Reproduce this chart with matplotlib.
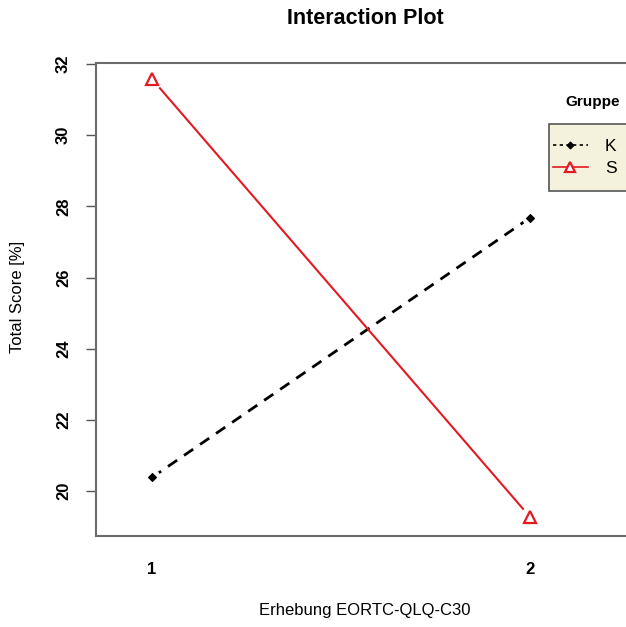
import matplotlib
matplotlib.use('Agg')
import matplotlib.pyplot as plt
from matplotlib.lines import Line2D
from matplotlib.patches import Rectangle

plt.rcParams['font.family'] = ['Liberation Sans', 'DejaVu Sans']

# data
erhebung = [1, 2]
gruppen = ['K', 'S']
score_k = [20.38, 27.68]
score_s = [31.58, 19.27]
y_ticks = [20, 22, 24, 26, 28, 30, 32]

styles = {
    'K': dict(color='black', ls=(0, (4, 3)), lw=2.0, marker='D', ms=4.5, mfc='black', mew=0.8),
    'S': dict(color='#e41a22', ls='-', lw=1.5, marker='^', ms=8, mfc='white', mew=1.6),
}

fig = plt.figure(figsize=(6.26, 6.27), dpi=100)
ax = fig.add_axes([96 / 626, 91 / 627, 538 / 626, 473 / 627])

for name, vals in zip(gruppen, [score_k, score_s]):
    st = styles[name]
    ax.plot(erhebung, vals, color=st['color'], ls=st['ls'], lw=st['lw'], zorder=2)
    # white gap round the points, like R's type = "b"
    ax.plot(erhebung, vals, ls='none', marker='o', ms=st['ms'] + 6, mfc='white', mec='white', zorder=3)
    ax.plot(erhebung, vals, ls='none', marker=st['marker'], ms=st['ms'], mfc=st['mfc'],
            mec=st['color'], mew=st['mew'], zorder=4)

ax.set_xlim(0.852, 2.275)
ax.set_ylim(18.735, 32.03)
ax.set_xticks(erhebung)
ax.set_xticklabels([str(v) for v in erhebung], fontsize=12, fontweight='bold')
ax.set_yticks(y_ticks)
ax.set_yticklabels([str(v) for v in y_ticks], fontsize=12, fontweight='bold',
                   rotation=90, va='center')
ax.tick_params(axis='x', length=0, pad=19)
ax.tick_params(axis='y', length=7, width=1, color='#555555', pad=11)
for side in ['left', 'bottom', 'top', 'right']:
    ax.spines[side].set_color('#6b6b6b')
    ax.spines[side].set_linewidth(1.5)

fig.text(365 / 626, 1 - 19 / 627, 'Interaction Plot', ha='center', va='center',
         fontsize=15.5, fontweight='bold')
fig.text(365 / 626, 1 - 611 / 627, 'Erhebung EORTC-QLQ-C30', ha='center', va='center', fontsize=12)
fig.text(18 / 626, 1 - 297 / 627, 'Total Score [%]', ha='center', va='center',
         rotation=90, fontsize=12)
fig.text(593 / 626, 1 - 102 / 627, 'Gruppe', ha='center', va='center', fontsize=11, fontweight='bold')

# legend box
fig.patches.append(Rectangle((549 / 626, 1 - 191 / 627), 80 / 626, 67 / 627,
                             transform=fig.transFigure, facecolor='#f4f1dc',
                             edgecolor='#555555', lw=1.2, zorder=5))
handles = []
for name in gruppen:
    st = styles[name]
    handles.append(Line2D([], [], color=st['color'], ls=st['ls'] if name == 'S' else (0, (2, 2)),
                          lw=1.2, marker=st['marker'], ms=st['ms'] - 1, mfc=st['mfc'],
                          mec=st['color'], mew=st['mew']))
leg = fig.legend(handles, gruppen, loc='upper left',
                 bbox_to_anchor=(553 / 626, 1 - 139 / 627), frameon=False,
                 fontsize=12.5, handlelength=2.0, handletextpad=1.0, borderpad=0,
                 borderaxespad=0, labelspacing=0.4)
leg.set_zorder(6)

fig.savefig('out.png', dpi=100)
